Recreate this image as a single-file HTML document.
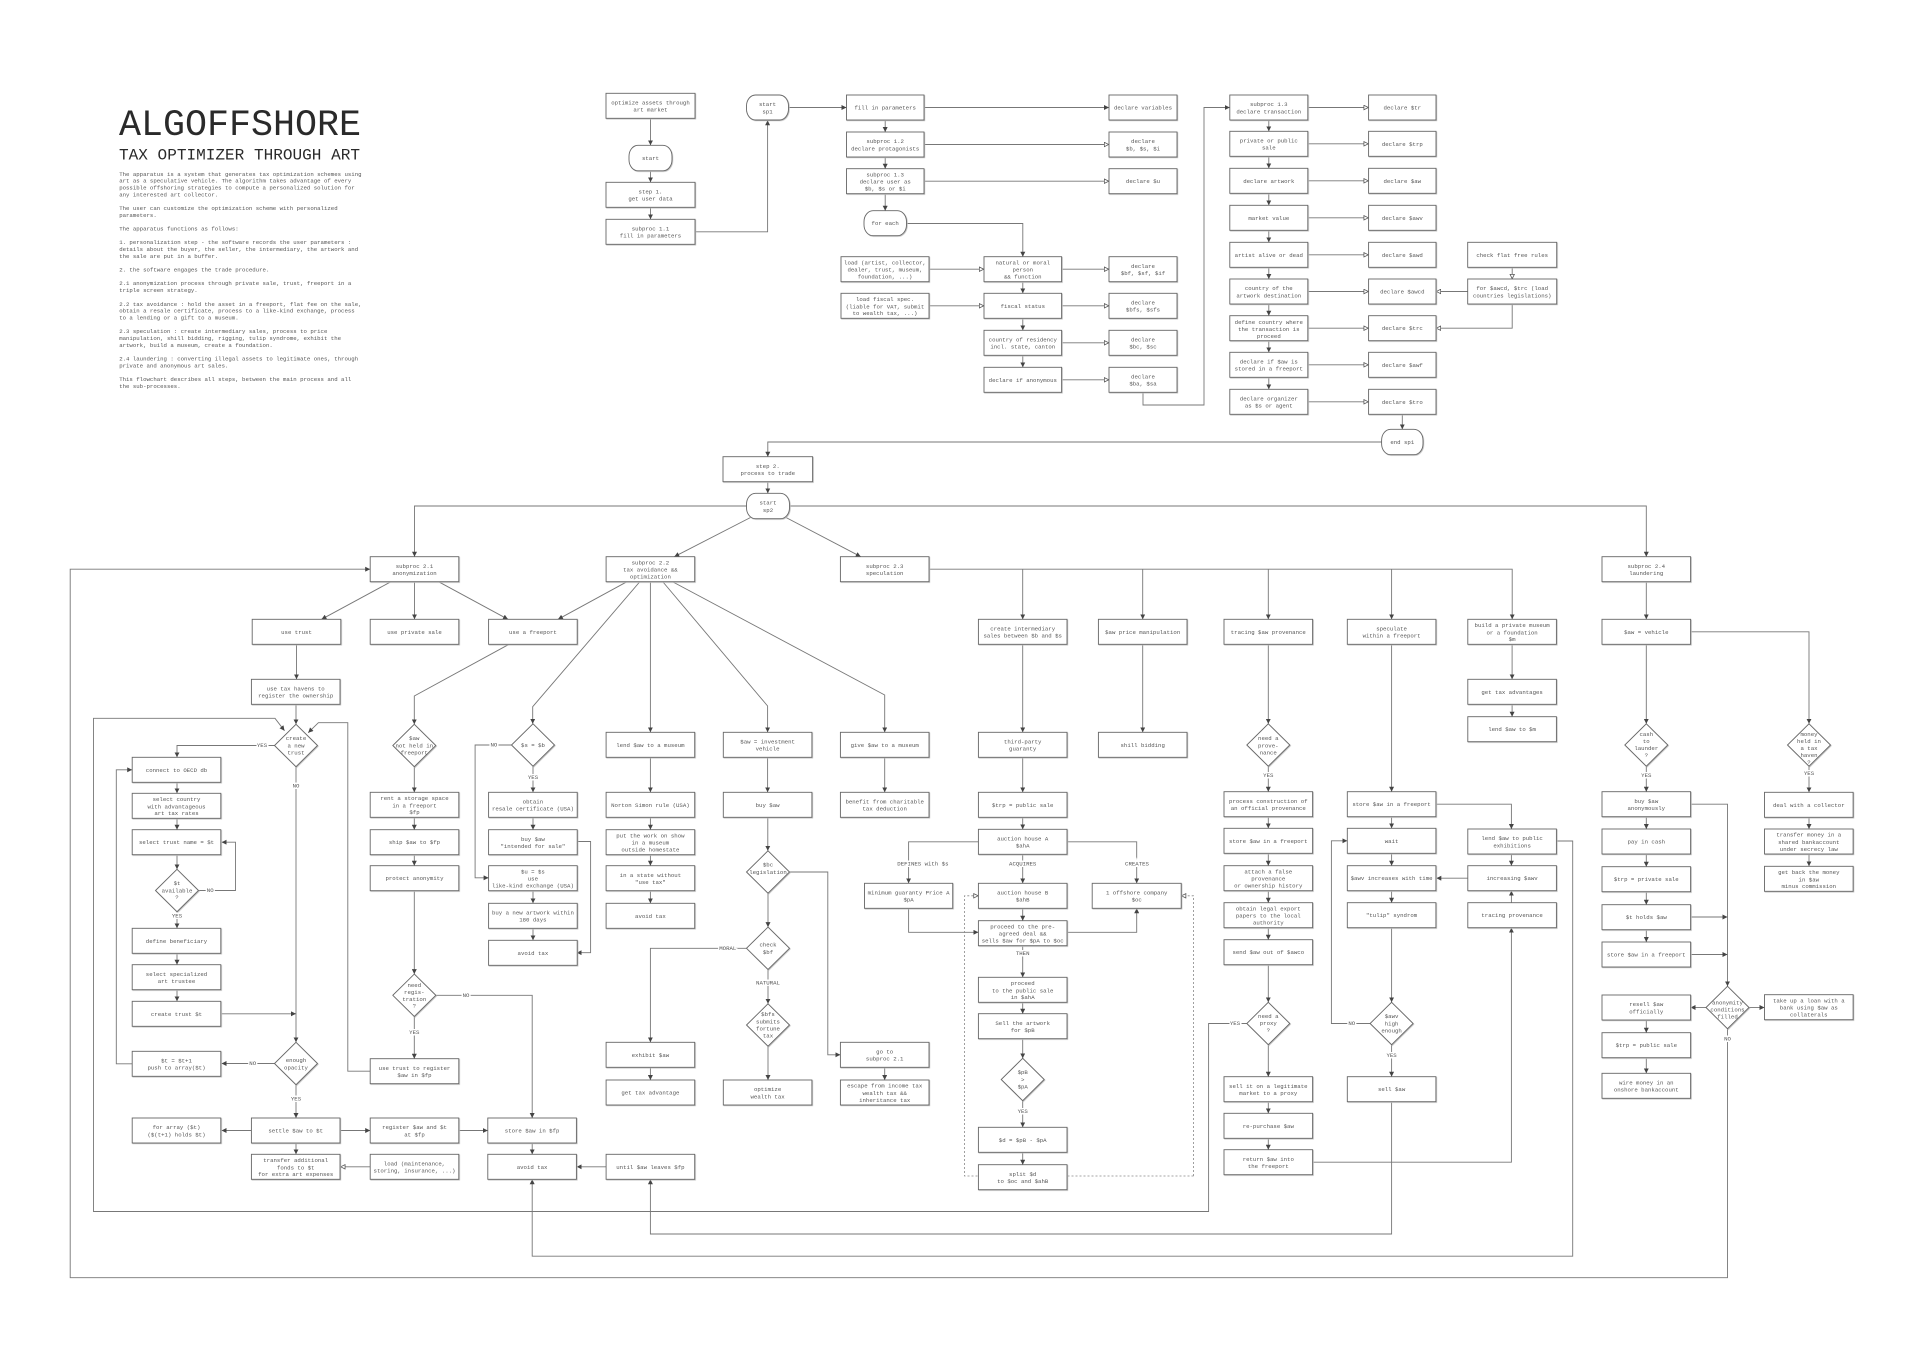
<!DOCTYPE html>
<html><head><meta charset="utf-8"><title>ALGOFFSHORE</title>
<style>
html,body{margin:0;padding:0;background:#fff;overflow:hidden}
svg{display:block}
.l{fill:none;stroke:#777;stroke-width:0.9}
.d{fill:none;stroke:#888;stroke-width:0.8;stroke-dasharray:2,2}
.sh rect,.sh polygon{fill:#fff;stroke:#666;stroke-width:0.9}
.t{font-family:"Liberation Mono",monospace;font-size:5.7px;fill:#555;text-anchor:middle;dominant-baseline:central}
.lb{font-family:"Liberation Mono",monospace;font-size:5.7px;fill:#555;text-anchor:middle;dominant-baseline:central;paint-order:stroke;stroke:#fff;stroke-width:3px}
.bd{font-family:"Liberation Mono",monospace;font-size:5.7px;fill:#555;dominant-baseline:central}
</style></head>
<body>
<svg width="1920" height="1358" viewBox="0 0 1920 1358" xmlns="http://www.w3.org/2000/svg">
<defs>
<marker id="a" viewBox="0 0 10 10" refX="10" refY="5" markerWidth="5" markerHeight="5" markerUnits="userSpaceOnUse" orient="auto"><path d="M0,0 L10,5 L0,10 z" fill="#444"/></marker>
<marker id="h" viewBox="0 0 10 10" refX="9.5" refY="5" markerWidth="5.5" markerHeight="5.5" markerUnits="userSpaceOnUse" orient="auto"><path d="M1,1 L9,5 L1,9 z" fill="#fff" stroke="#555" stroke-width="1.4"/></marker>
<filter id="s" x="-5%" y="-5%" width="110%" height="115%"><feDropShadow dx="0.7" dy="0.7" stdDeviation="0.2" flood-color="#bbb"/></filter>
</defs>
<rect width="1920" height="1358" fill="#fff"/>

<!-- Title block -->
<text x="119" y="135" font-family="Liberation Mono, monospace" font-size="36.7" fill="#2a2a2a" textLength="242" lengthAdjust="spacingAndGlyphs">ALGOFFSHORE</text>
<text x="119" y="159.3" font-family="Liberation Mono, monospace" font-size="16" fill="#2a2a2a" textLength="241" lengthAdjust="spacingAndGlyphs">TAX OPTIMIZER THROUGH ART</text>
<g class="bd">
<text x="119.2" y="174.3">The apparatus is a system that generates tax optimization schemes using</text>
<text x="119.2" y="181.1">art as a speculative vehicle. The algorithm takes advantage of every</text>
<text x="119.2" y="188.0">possible offshoring strategies to compute a personalized solution for</text>
<text x="119.2" y="194.8">any interested art collector.</text>
<text x="119.2" y="208.5">The user can customize the optimization scheme with personalized</text>
<text x="119.2" y="215.3">parameters.</text>
<text x="119.2" y="229.0">The apparatus functions as follows:</text>
<text x="119.2" y="242.7">1. personalization step - the software records the user parameters :</text>
<text x="119.2" y="249.5">details about the buyer, the seller, the intermediary, the artwork and</text>
<text x="119.2" y="256.4">the sale are put in a buffer.</text>
<text x="119.2" y="270.1">2. the software engages the trade procedure.</text>
<text x="119.2" y="283.7">2.1 anonymization process through private sale, trust, freeport in a</text>
<text x="119.2" y="290.6">triple screen strategy.</text>
<text x="119.2" y="304.3">2.2 tax avoidance : hold the asset in a freeport, flat fee on the sale,</text>
<text x="119.2" y="311.1">obtain a resale certificate, process to a like-kind exchange, process</text>
<text x="119.2" y="317.9">to a lending or a gift to a museum.</text>
<text x="119.2" y="331.6">2.3 speculation : create intermediary sales, process to price</text>
<text x="119.2" y="338.5">manipulation, shill bidding, rigging, tulip syndrome, exhibit the</text>
<text x="119.2" y="345.3">artwork, build a museum, create a foundation.</text>
<text x="119.2" y="359.0">2.4 laundering : converting illegal assets to legitimate ones, through</text>
<text x="119.2" y="365.8">private and anonymous art sales.</text>
<text x="119.2" y="379.5">This flowchart describes all steps, between the main process and all</text>
<text x="119.2" y="386.3">the sub-processes.</text>
</g>

<!-- Connectors: filled arrows -->
<g class="l" marker-end="url(#a)">
<path d="M650.5,118.3V145.3"/>
<path d="M650.5,170.8V182.3"/>
<path d="M650.5,207.3V219.3"/>
<path d="M695,231.8H767.6V120.3"/>
<path d="M788.5,107.5H846.5"/>
<path d="M924,107.5H1109"/>
<path d="M885.2,120V132"/>
<path d="M885.2,157V168.7"/>
<path d="M885.2,193.7V210.7"/>
<path d="M906.5,223.5H1022.8V256.7"/>
<path d="M1022.8,281.7V293.3"/>
<path d="M1022.8,318.3V330.3"/>
<path d="M1022.8,355.3V367.3"/>
<path d="M1143,392.3V405H1204V107.5H1229.8"/>
<path d="M1268.8,120V131.3"/>
<path d="M1268.8,156.3V168.3"/>
<path d="M1268.8,193.3V205.3"/>
<path d="M1268.8,230.3V242.3"/>
<path d="M1268.8,267.3V279"/>
<path d="M1268.8,304V315.7"/>
<path d="M1268.8,340.7V352.3"/>
<path d="M1268.8,377.3V389.3"/>
<path d="M1402.3,414.3V429.3"/>
<path d="M1381.6,442H767.8V456.7"/>
<path d="M767.8,481.7V493.3"/>

<path d="M746.5,506H414.5V556.7"/>
<path d="M789.5,506H1646.3V556.7"/>
<path d="M750.5,517.5L674.3,556.7"/>
<path d="M786,517.5L860.8,556.7"/>
<path d="M1727.5,1028.7V1277.7H70.2V569.2H370.2"/>
<path d="M391,581.7L321.5,619.3"/>
<path d="M414.5,581.7V619.3"/>
<path d="M438.5,581.7L508,619.3"/>
<path d="M627,581.7L558,619.3"/>
<path d="M296.5,644.3V679.3"/>
<path d="M296,703.7V724.3"/>
<path d="M1246.8,1023.5H1208.6V1211.5H93.5V718.3H275L284.5,730.7"/>
<path d="M370.2,1071.2H347.8V722.7H318.4L308.2,732.7"/>
<path d="M274.5,745.5H177V757.3"/>
<path d="M296,766.7V1042.3"/>
<path d="M177,782.3V793.3"/>
<path d="M177,818.3V829.7"/>
<path d="M177,854.7V869.3"/>
<path d="M198.5,890.5H235.5V842.2H221.6"/>
<path d="M177,911.7V928.3"/>
<path d="M177,953.3V964.7"/>
<path d="M177,989.7V1001.3"/>
<path d="M221.6,1013.8H296"/>
<path d="M132.2,1063.8H116.3V769.8H132.2"/>
<path d="M274.5,1063.5H221.6"/>
<path d="M296,1084.7V1118"/>
<path d="M251.4,1130.5H221.6"/>
<path d="M340.4,1130.5H370.2"/>
<path d="M458.8,1130.5H487.8"/>
<path d="M296,1143V1154.3"/>
<path d="M532.2,1143V1154.3"/>
<path d="M606.1,1166.8H576.7"/>
<path d="M509,644.3L414.3,696V724.3"/>
<path d="M414.3,766.7V792.3"/>
<path d="M414.3,817.3V829.7"/>
<path d="M414.3,854.7V865.7"/>
<path d="M414.3,890.7V974.1"/>
<path d="M414.3,1016.5V1058.7"/>
<path d="M435.8,995.3H532.2V1118"/>
<path d="M639.6,582L532.7,706.7V723.8"/>
<path d="M511.5,745H475.1V877.8H488.6"/>
<path d="M533,766.2V792.3"/>
<path d="M533,817.3V829.7"/>
<path d="M576.7,841.5H590.6V952.7H576.7"/>
<path d="M533,890.7V903.3"/>
<path d="M533,927.7V940.3"/>
<path d="M650.4,581.7V732.3"/>
<path d="M650.4,757.3V792.3"/>
<path d="M650.4,817.3V829.7"/>
<path d="M650.4,854.7V865.7"/>
<path d="M650.4,890.7V903.3"/>
<path d="M663,582L767.6,706V732.3"/>
<path d="M673,582L884.7,695V732.3"/>
<path d="M767.6,757.3V792.3"/>
<path d="M767.8,817.3V850.8"/>
<path d="M789.5,872H827.8V1054.8H840.4"/>
<path d="M768,893.2V927.1"/>
<path d="M746.5,948.3H650.4V1042.3"/>
<path d="M768,969.5V1003.8"/>
<path d="M768,1046.2V1080"/>
<path d="M884.7,757.3V792.3"/>
<path d="M884.7,1067.3V1080"/>
<path d="M650.4,1067.3V1080"/>

<path d="M929.4,569.2H1512.2V619.3"/>
<path d="M1022.7,569.2V619.3"/>
<path d="M1142.7,569.2V619.3"/>
<path d="M1268.3,569.2V619.3"/>
<path d="M1391.6,569.2V619.3"/>
<path d="M1022.7,644.3V732.3"/>
<path d="M1142.7,644.3V732.3"/>
<path d="M1268.3,644.3V723.8"/>
<path d="M1391.6,644.3V791.7"/>
<path d="M1512.1,644.3V679.3"/>
<path d="M1512.1,704.3V716.7"/>
<path d="M1022.7,757.3V792.3"/>
<path d="M1022.7,817.3V829.3"/>
<path d="M978.4,841.8H908.6V883.3"/>
<path d="M1022.7,854.3V883.3"/>
<path d="M1066.9,841.8H1136.7V883.3"/>
<path d="M908.6,908.3V932.3H978.4"/>
<path d="M1022.7,908.3V920.7"/>
<path d="M1066.9,932.3H1136.7V908.3"/>
<path d="M1022.7,945.7V977.3"/>
<path d="M1022.7,1002.3V1013.7"/>
<path d="M1022.7,1038.7V1058.3"/>
<path d="M1022.7,1100.7V1127.3"/>
<path d="M1022.7,1152.3V1164.7"/>
<path d="M1268.3,766.2V791.7"/>
<path d="M1268.3,816.7V828.3"/>
<path d="M1268.3,853.3V865.7"/>
<path d="M1268.3,890.7V902.7"/>
<path d="M1268.3,927.3V939.7"/>
<path d="M1268.3,964.7V1002.3"/>
<path d="M1268.3,1044.7V1076.7"/>
<path d="M1268.3,1101.7V1113.3"/>
<path d="M1268.3,1138.3V1149.7"/>
<path d="M1313,1162.2H1511.4V927.7"/>
<path d="M1511.4,902.7V890.7"/>
<path d="M1391.6,816.7V828.3"/>
<path d="M1436.3,804.2H1511.4V829"/>
<path d="M1391.6,853.3V865.7"/>
<path d="M1511.4,853.3V865.7"/>
<path d="M1467.8,878.2H1436.3"/>
<path d="M1391.6,890.7V902.7"/>
<path d="M1391.6,927.7V1002.3"/>
<path d="M1370.1,1023.5H1331.4V840.8H1347.3"/>
<path d="M1391.6,1044.7V1076.7"/>
<path d="M1391.6,1101.7V1234H650.4V1179.3"/>
<path d="M1556.3,841H1572.7V1256.2H532.2V1179.3"/>

<path d="M1646.3,581.7V619.3"/>
<path d="M1646.3,644.3V723.8"/>
<path d="M1690.6,631.8H1809V723.8"/>
<path d="M1646.3,766.2V791.7"/>
<path d="M1646.3,816.7V829"/>
<path d="M1646.3,854V866.7"/>
<path d="M1646.3,891.7V904.7"/>
<path d="M1646.3,929.7V942"/>
<path d="M1690.6,804.2H1727.5V986.3"/>
<path d="M1690.6,917H1727.5"/>
<path d="M1690.6,954.5H1727.5"/>
<path d="M1706,1007.5H1690.6"/>
<path d="M1749,1007.5H1764.5"/>
<path d="M1646.3,1020V1032.7"/>
<path d="M1646.3,1057.7V1073.3"/>
<path d="M1809,766.2V792.3"/>
<path d="M1809,817.3V829"/>
<path d="M1809,854.3V866.3"/>
</g>

<!-- Connectors: hollow arrows -->
<g class="l" marker-end="url(#h)">
<path d="M924,144.5H1109"/>
<path d="M924,181.2H1109"/>
<path d="M929,269.2H984"/>
<path d="M1061.6,269.2H1109"/>
<path d="M929,305.8H984"/>
<path d="M1061.6,305.8H1109"/>
<path d="M1061.6,342.8H1109"/>
<path d="M1061.6,379.8H1109"/>
<path d="M1307.8,107.5H1368.6"/>
<path d="M1307.8,143.8H1368.6"/>
<path d="M1307.8,180.8H1368.6"/>
<path d="M1307.8,217.8H1368.6"/>
<path d="M1307.8,254.8H1368.6"/>
<path d="M1307.8,291.5H1368.6"/>
<path d="M1307.8,328.2H1368.6"/>
<path d="M1307.8,364.8H1368.6"/>
<path d="M1307.8,401.8H1368.6"/>
<path d="M1512.2,267.3V279"/>
<path d="M1467.7,291.5H1436"/>
<path d="M1512.2,304V328.2H1436"/>
<path d="M370.2,1166.8H340.4"/>
</g>
<g class="d" marker-end="url(#h)">
<path d="M1193.5,1176H964.5V895.8H978.4"/>
<path d="M1193.5,1176V895.8H1181.2"/>
</g>

<!-- Shapes -->
<g class="sh" filter="url(#s)">
<rect x="606" y="93.3" width="89" height="25"/>
<rect x="629" y="145.3" width="43" height="25.5" rx="9" ry="11"/>
<rect x="606" y="182.3" width="89" height="25"/>
<rect x="606" y="219.3" width="89" height="25"/>
<rect x="746.5" y="95" width="42" height="25" rx="9" ry="11"/>
<rect x="846.5" y="95" width="77.5" height="25"/>
<rect x="846.5" y="132" width="77.5" height="25"/>
<rect x="846.5" y="168.7" width="77.5" height="25"/>
<rect x="864" y="210.7" width="42.5" height="25" rx="9" ry="11"/>
<rect x="841" y="256.7" width="88" height="25"/>
<rect x="841" y="293.3" width="88" height="25"/>
<rect x="984" y="256.7" width="77.6" height="25"/>
<rect x="984" y="293.3" width="77.6" height="25"/>
<rect x="984" y="330.3" width="77.6" height="25"/>
<rect x="984" y="367.3" width="77.6" height="25"/>
<rect x="1109" y="95" width="68" height="25"/>
<rect x="1109" y="132" width="68" height="25"/>
<rect x="1109" y="168.7" width="68" height="25"/>
<rect x="1109" y="256.7" width="68" height="25"/>
<rect x="1109" y="293.3" width="68" height="25"/>
<rect x="1109" y="330.3" width="68" height="25"/>
<rect x="1109" y="367.3" width="68" height="25"/>
<rect x="1229.8" y="95" width="78" height="25"/>
<rect x="1229.8" y="131.3" width="78" height="25"/>
<rect x="1229.8" y="168.3" width="78" height="25"/>
<rect x="1229.8" y="205.3" width="78" height="25"/>
<rect x="1229.8" y="242.3" width="78" height="25"/>
<rect x="1229.8" y="279" width="78" height="25"/>
<rect x="1229.8" y="315.7" width="78" height="25"/>
<rect x="1229.8" y="352.3" width="78" height="25"/>
<rect x="1229.8" y="389.3" width="78" height="25"/>
<rect x="1368.6" y="95" width="67.4" height="25"/>
<rect x="1368.6" y="131.3" width="67.4" height="25"/>
<rect x="1368.6" y="168.3" width="67.4" height="25"/>
<rect x="1368.6" y="205.3" width="67.4" height="25"/>
<rect x="1368.6" y="242.3" width="67.4" height="25"/>
<rect x="1368.6" y="279" width="67.4" height="25"/>
<rect x="1368.6" y="315.7" width="67.4" height="25"/>
<rect x="1368.6" y="352.3" width="67.4" height="25"/>
<rect x="1368.6" y="389.3" width="67.4" height="25"/>
<rect x="1467.7" y="242.3" width="89" height="25"/>
<rect x="1467.7" y="279" width="89" height="25"/>
<rect x="1381.6" y="429.3" width="41.4" height="25.4" rx="9" ry="11"/>
<rect x="723" y="456.7" width="89.6" height="25"/>
<rect x="746.5" y="493.3" width="43" height="25.4" rx="9" ry="11"/>

<rect x="370.2" y="556.7" width="88.6" height="25"/>
<rect x="606.1" y="556.7" width="88.6" height="25"/>
<rect x="840.4" y="556.7" width="88.6" height="25"/>
<rect x="1602" y="556.7" width="88.6" height="25"/>

<rect x="252.2" y="619.3" width="88.6" height="25"/>
<rect x="370.2" y="619.3" width="88.6" height="25"/>
<rect x="488.6" y="619.3" width="88.6" height="25"/>
<rect x="978.4" y="619.3" width="88.6" height="25"/>
<rect x="1098.4" y="619.3" width="88.6" height="25"/>
<rect x="1224" y="619.3" width="88.6" height="25"/>
<rect x="1347.3" y="619.3" width="88.6" height="25"/>
<rect x="1467.8" y="619.3" width="88.6" height="25"/>
<rect x="1602" y="619.3" width="88.6" height="25"/>

<rect x="251.4" y="679.3" width="88.6" height="25"/>
<rect x="1467.8" y="679.3" width="88.6" height="25"/>
<rect x="1467.8" y="716.7" width="88.6" height="25"/>

<rect x="606.1" y="732.3" width="88.6" height="25"/>
<rect x="723.3" y="732.3" width="88.6" height="25"/>
<rect x="840.4" y="732.3" width="88.6" height="25"/>
<rect x="978.4" y="732.3" width="88.6" height="25"/>
<rect x="1098.4" y="732.3" width="88.6" height="25"/>

<rect x="132.2" y="757.3" width="88.6" height="25"/>
<rect x="132.2" y="793.3" width="88.6" height="25"/>
<rect x="132.2" y="829.7" width="88.6" height="25"/>
<rect x="132.2" y="928.3" width="88.6" height="25"/>
<rect x="132.2" y="964.7" width="88.6" height="25"/>
<rect x="132.2" y="1001.3" width="88.6" height="25"/>
<rect x="132.2" y="1051.3" width="88.6" height="25"/>
<rect x="132.2" y="1118" width="88.6" height="25"/>

<rect x="370.2" y="792.3" width="88.6" height="25"/>
<rect x="488.6" y="792.3" width="88.6" height="25"/>
<rect x="606.1" y="792.3" width="88.6" height="25"/>
<rect x="723.3" y="792.3" width="88.6" height="25"/>
<rect x="840.4" y="792.3" width="88.6" height="25"/>
<rect x="978.4" y="792.3" width="88.6" height="25"/>
<rect x="1764.5" y="792.3" width="88.6" height="25"/>
<rect x="1224" y="791.7" width="88.6" height="25"/>
<rect x="1347.3" y="791.7" width="88.6" height="25"/>
<rect x="1602" y="791.7" width="88.6" height="25"/>

<rect x="370.2" y="829.7" width="88.6" height="25"/>
<rect x="488.6" y="829.7" width="88.6" height="25"/>
<rect x="606.1" y="829.7" width="88.6" height="25"/>
<rect x="978.4" y="829.3" width="88.6" height="25"/>
<rect x="1224" y="828.3" width="88.6" height="25"/>
<rect x="1347.3" y="828.3" width="88.6" height="25"/>
<rect x="1467.8" y="829" width="88.6" height="25"/>
<rect x="1602" y="829" width="88.6" height="25"/>
<rect x="1764.5" y="829" width="88.6" height="25"/>

<rect x="370.2" y="865.7" width="88.6" height="25"/>
<rect x="488.6" y="865.7" width="88.6" height="25"/>
<rect x="606.1" y="865.7" width="88.6" height="25"/>
<rect x="1224" y="865.7" width="88.6" height="25"/>
<rect x="1347.3" y="865.7" width="88.6" height="25"/>
<rect x="1467.8" y="865.7" width="88.6" height="25"/>
<rect x="1602" y="866.7" width="88.6" height="25"/>
<rect x="1764.5" y="866.3" width="88.6" height="25"/>

<rect x="864.5" y="883.3" width="88.2" height="25"/>
<rect x="978.4" y="883.3" width="88.6" height="25"/>
<rect x="1092.2" y="883.3" width="89" height="25"/>

<rect x="488.6" y="903.3" width="88.6" height="25"/>
<rect x="606.1" y="903.3" width="88.6" height="25"/>
<rect x="1224" y="902.7" width="88.6" height="25"/>
<rect x="1347.3" y="902.7" width="88.6" height="25"/>
<rect x="1467.8" y="902.7" width="88.6" height="25"/>
<rect x="1602" y="904.7" width="88.6" height="25"/>

<rect x="978.4" y="920.7" width="88.6" height="25"/>
<rect x="488.6" y="940.3" width="88.6" height="25"/>
<rect x="1224" y="939.7" width="88.6" height="25"/>
<rect x="1602" y="942" width="88.6" height="25"/>
<rect x="978.4" y="977.3" width="88.6" height="25"/>
<rect x="1602" y="995" width="88.6" height="25"/>
<rect x="1764.5" y="994.7" width="88.6" height="25"/>
<rect x="978.4" y="1013.7" width="88.6" height="25"/>
<rect x="1602" y="1032.7" width="88.6" height="25"/>
<rect x="840.4" y="1042.3" width="88.6" height="25"/>
<rect x="606.1" y="1042.3" width="88.6" height="25"/>
<rect x="370.2" y="1058.7" width="88.6" height="25"/>
<rect x="1602" y="1073.3" width="88.6" height="25"/>
<rect x="1224" y="1076.7" width="88.6" height="25"/>
<rect x="1347.3" y="1076.7" width="88.6" height="25"/>
<rect x="723.3" y="1080" width="88.6" height="25"/>
<rect x="840.4" y="1080" width="88.6" height="25"/>
<rect x="606.1" y="1080" width="88.6" height="25"/>
<rect x="1224" y="1113.3" width="88.6" height="25"/>
<rect x="251.4" y="1118" width="88.6" height="25"/>
<rect x="370.2" y="1118" width="88.6" height="25"/>
<rect x="487.8" y="1118" width="88.6" height="25"/>
<rect x="978.4" y="1127.3" width="88.6" height="25"/>
<rect x="1224" y="1149.7" width="88.6" height="25"/>
<rect x="251.4" y="1154.3" width="88.6" height="25"/>
<rect x="370.2" y="1154.3" width="88.6" height="25"/>
<rect x="487.8" y="1154.3" width="88.6" height="25"/>
<rect x="606.1" y="1154.3" width="88.6" height="25"/>
<rect x="978.4" y="1164.7" width="88.6" height="25"/>

<polygon points="296,724.3 317.5,745.5 296,766.7 274.5,745.5"/>
<polygon points="414.3,724.3 435.8,745.5 414.3,766.7 392.8,745.5"/>
<polygon points="533,723.8 554.5,745 533,766.2 511.5,745"/>
<polygon points="1268.3,723.8 1289.8,745 1268.3,766.2 1246.8,745"/>
<polygon points="1646.3,723.8 1667.8,745 1646.3,766.2 1624.8,745"/>
<polygon points="1809,723.8 1830.5,745 1809,766.2 1787.5,745"/>
<polygon points="177,869.3 198.5,890.5 177,911.7 155.5,890.5"/>
<polygon points="768,850.8 789.5,872 768,893.2 746.5,872"/>
<polygon points="768,927.1 789.5,948.3 768,969.5 746.5,948.3"/>
<polygon points="768,1003.8 789.5,1025 768,1046.2 746.5,1025"/>
<polygon points="414.3,974.1 435.8,995.3 414.3,1016.5 392.8,995.3"/>
<polygon points="296,1042.3 317.5,1063.5 296,1084.7 274.5,1063.5"/>
<polygon points="1022.7,1058.3 1044.2,1079.5 1022.7,1100.7 1001.2,1079.5"/>
<polygon points="1268.3,1002.3 1289.8,1023.5 1268.3,1044.7 1246.8,1023.5"/>
<polygon points="1391.6,1002.3 1413.1,1023.5 1391.6,1044.7 1370.1,1023.5"/>
<polygon points="1727.5,986.3 1749,1007.5 1727.5,1028.7 1706,1007.5"/>
</g>

<!-- Box texts -->
<g class="t">
<text x="650.5" y="102.9">optimize assets through<tspan x="650.5" dy="6.8">art market</tspan></text>
<text x="650.5" y="158.5">start</text>
<text x="650.5" y="191.9">step 1.<tspan x="650.5" dy="6.8">get user data</tspan></text>
<text x="650.5" y="228.9">subproc 1.1<tspan x="650.5" dy="6.8">fill in parameters</tspan></text>
<text x="767.5" y="104.6">start<tspan x="767.5" dy="6.8">sp1</tspan></text>
<text x="885.2" y="108">fill in parameters</text>
<text x="885.2" y="141.6">subproc 1.2<tspan x="885.2" dy="6.8">declare protagonists</tspan></text>
<text x="885.2" y="174.9">subproc 1.3<tspan x="885.2" dy="6.8">declare user as</tspan><tspan x="885.2" dy="6.8">$b, $s or $i</tspan></text>
<text x="885.2" y="223.7">for each</text>
<text x="885" y="262.9">load (artist, collector,<tspan x="885" dy="6.8">dealer, trust, museum,</tspan><tspan x="885" dy="6.8">foundation, ...)</tspan></text>
<text x="885" y="299.5">load fiscal spec.<tspan x="885" dy="6.8">(liable for VAT, submit</tspan><tspan x="885" dy="6.8">to wealth tax, ...)</tspan></text>
<text x="1022.8" y="262.9">natural or moral<tspan x="1022.8" dy="6.8">person</tspan><tspan x="1022.8" dy="6.8">&amp;&amp; function</tspan></text>
<text x="1022.8" y="306.3">fiscal status</text>
<text x="1022.8" y="339.9">country of residency<tspan x="1022.8" dy="6.8">incl. state, canton</tspan></text>
<text x="1022.8" y="380.3">declare if anonymous</text>
<text x="1143" y="108">declare variables</text>
<text x="1143" y="141.6">declare<tspan x="1143" dy="6.8">$b, $s, $i</tspan></text>
<text x="1143" y="181.7">declare $u</text>
<text x="1143" y="266.3">declare<tspan x="1143" dy="6.8">$bf, $sf, $if</tspan></text>
<text x="1143" y="302.9">declare<tspan x="1143" dy="6.8">$bfs, $sfs</tspan></text>
<text x="1143" y="339.9">declare<tspan x="1143" dy="6.8">$bc, $sc</tspan></text>
<text x="1143" y="376.9">declare<tspan x="1143" dy="6.8">$ba, $sa</tspan></text>
<text x="1268.8" y="104.6">subproc 1.3<tspan x="1268.8" dy="6.8">declare transaction</tspan></text>
<text x="1268.8" y="140.9">private or public<tspan x="1268.8" dy="6.8">sale</tspan></text>
<text x="1268.8" y="181.3">declare artwork</text>
<text x="1268.8" y="218.3">market value</text>
<text x="1268.8" y="255.3">artist alive or dead</text>
<text x="1268.8" y="288.6">country of the<tspan x="1268.8" dy="6.8">artwork destination</tspan></text>
<text x="1268.8" y="322.4">define country where<tspan x="1268.8" dy="6.8">the transaction is</tspan><tspan x="1268.8" dy="6.8">proceed</tspan></text>
<text x="1268.8" y="361.9">declare if $aw is<tspan x="1268.8" dy="6.8">stored in a freeport</tspan></text>
<text x="1268.8" y="398.9">declare organizer<tspan x="1268.8" dy="6.8">as $s or agent</tspan></text>
<text x="1402.3" y="108">declare $tr</text>
<text x="1402.3" y="144.3">declare $trp</text>
<text x="1402.3" y="181.3">declare $aw</text>
<text x="1402.3" y="218.3">declare $awv</text>
<text x="1402.3" y="255.3">declare $awd</text>
<text x="1402.3" y="292">declare $awcd</text>
<text x="1402.3" y="328.7">declare $trc</text>
<text x="1402.3" y="365.3">declare $awf</text>
<text x="1402.3" y="402.3">declare $tro</text>
<text x="1512.2" y="255.3">check flat free rules</text>
<text x="1512.2" y="288.6">for $awcd, $trc (load<tspan x="1512.2" dy="6.8">countries legislations)</tspan></text>
<text x="1402.3" y="442.5">end sp1</text>
<text x="767.8" y="466.3">step 2.<tspan x="767.8" dy="6.8">process to trade</tspan></text>
<text x="768" y="503.1">start<tspan x="768" dy="6.8">sp2</tspan></text>

<text x="414.5" y="566.3">subproc 2.1<tspan x="414.5" dy="6.8">anonymization</tspan></text>
<text x="650.4" y="562.9">subproc 2.2<tspan x="650.4" dy="6.8">tax avoidance &amp;&amp;</tspan><tspan x="650.4" dy="6.8">optimization</tspan></text>
<text x="884.7" y="566.3">subproc 2.3<tspan x="884.7" dy="6.8">speculation</tspan></text>
<text x="1646.3" y="566.3">subproc 2.4<tspan x="1646.3" dy="6.8">laundering</tspan></text>

<text x="296.5" y="632.3">use trust</text>
<text x="414.5" y="632.3">use private sale</text>
<text x="532.9" y="632.3">use a freeport</text>
<text x="1022.7" y="628.9">create intermediary<tspan x="1022.7" dy="6.8">sales between $b and $s</tspan></text>
<text x="1142.7" y="632.3">$aw price manipulation</text>
<text x="1268.3" y="632.3">tracing $aw provenance</text>
<text x="1391.6" y="628.9">speculate<tspan x="1391.6" dy="6.8">within a freeport</tspan></text>
<text x="1512.1" y="625.5">build a private museum<tspan x="1512.1" dy="6.8">or a foundation</tspan><tspan x="1512.1" dy="6.8">$m</tspan></text>
<text x="1646.3" y="632.3">$aw = vehicle</text>

<text x="295.7" y="688.9">use tax havens to<tspan x="295.7" dy="6.8">register the ownership</tspan></text>
<text x="1512.1" y="692.3">get tax advantages</text>
<text x="1512.1" y="729.7">lend $aw to $m</text>

<text x="650.4" y="745.3">lend $aw to a museum</text>
<text x="767.6" y="741.9">$aw = investment<tspan x="767.6" dy="6.8">vehicle</tspan></text>
<text x="884.7" y="745.3">give $aw to a museum</text>
<text x="1022.7" y="741.9">third-party<tspan x="1022.7" dy="6.8">guaranty</tspan></text>
<text x="1142.7" y="745.3">shill bidding</text>

<text x="176.5" y="770.3">connect to OECD db</text>
<text x="176.5" y="799.5">select country<tspan x="176.5" dy="6.8">with advantageous</tspan><tspan x="176.5" dy="6.8">art tax rates</tspan></text>
<text x="176.5" y="842.7">select trust name = $t</text>
<text x="176.5" y="941.3">define beneficiary</text>
<text x="176.5" y="974.3">select specialized<tspan x="176.5" dy="6.8">art trustee</tspan></text>
<text x="176.5" y="1014.3">create trust $t</text>
<text x="176.5" y="1060.9">$t = $t+1<tspan x="176.5" dy="6.8">push to array($t)</tspan></text>
<text x="176.5" y="1127.6">for array ($t)<tspan x="176.5" dy="6.8">($(t+1) holds $t)</tspan></text>

<text x="414.5" y="798.5">rent a storage space<tspan x="414.5" dy="6.8">in a freeport</tspan><tspan x="414.5" dy="6.8">$fp</tspan></text>
<text x="532.9" y="801.9">obtain<tspan x="532.9" dy="6.8">resale certificate (USA)</tspan></text>
<text x="650.4" y="805.3">Norton Simon rule (USA)</text>
<text x="767.6" y="805.3">buy $aw</text>
<text x="884.7" y="801.9">benefit from charitable<tspan x="884.7" dy="6.8">tax deduction</tspan></text>
<text x="1022.7" y="805.3">$trp = public sale</text>
<text x="1808.8" y="805.3">deal with a collector</text>
<text x="1268.3" y="801.3">process construction of<tspan x="1268.3" dy="6.8">an official provenance</tspan></text>
<text x="1391.6" y="804.7">store $aw in a freeport</text>
<text x="1646.3" y="801.3">buy $aw<tspan x="1646.3" dy="6.8">anonymously</tspan></text>

<text x="414.5" y="842.7">ship $aw to $fp</text>
<text x="532.9" y="839.3">buy $aw<tspan x="532.9" dy="6.8">"intended for sale"</tspan></text>
<text x="650.4" y="835.9">put the work on show<tspan x="650.4" dy="6.8">in a museum</tspan><tspan x="650.4" dy="6.8">outside homestate</tspan></text>
<text x="1022.7" y="838.9">auction house A<tspan x="1022.7" dy="6.8">$ahA</tspan></text>
<text x="1268.3" y="841.3">store $aw in a freeport</text>
<text x="1391.6" y="841.3">wait</text>
<text x="1512.1" y="838.6">lend $aw to public<tspan x="1512.1" dy="6.8">exhibitions</tspan></text>
<text x="1646.3" y="842">pay in cash</text>
<text x="1808.8" y="835.2">transfer money in a<tspan x="1808.8" dy="6.8">shared bankaccount</tspan><tspan x="1808.8" dy="6.8">under secrecy law</tspan></text>

<text x="414.5" y="878.7">protect anonymity</text>
<text x="532.9" y="871.9">$u = $s<tspan x="532.9" dy="6.8">use</tspan><tspan x="532.9" dy="6.8">like-kind exchange (USA)</tspan></text>
<text x="650.4" y="875.3">in a state without<tspan x="650.4" dy="6.8">"use tax"</tspan></text>
<text x="1268.3" y="871.9">attach a false<tspan x="1268.3" dy="6.8">provenance</tspan><tspan x="1268.3" dy="6.8">or ownership history</tspan></text>
<text x="1391.6" y="878.7">$awv increases with time</text>
<text x="1512.1" y="878.7">increasing $awv</text>
<text x="1646.3" y="879.7">$trp = private sale</text>
<text x="1808.8" y="872.5">get back the money<tspan x="1808.8" dy="6.8">in $aw</tspan><tspan x="1808.8" dy="6.8">minus commission</tspan></text>

<text x="908.6" y="892.9">minimum guaranty Price A<tspan x="908.6" dy="6.8">$pA</tspan></text>
<text x="1022.7" y="892.9">auction house B<tspan x="1022.7" dy="6.8">$ahB</tspan></text>
<text x="1136.7" y="892.9">1 offshore company<tspan x="1136.7" dy="6.8">$oc</tspan></text>

<text x="532.9" y="912.9">buy a new artwork within<tspan x="532.9" dy="6.8">180 days</tspan></text>
<text x="650.4" y="916.3">avoid tax</text>
<text x="1268.3" y="908.9">obtain legal export<tspan x="1268.3" dy="6.8">papers to the local</tspan><tspan x="1268.3" dy="6.8">authority</tspan></text>
<text x="1391.6" y="915.7">"tulip" syndrom</text>
<text x="1512.1" y="915.7">tracing provenance</text>
<text x="1646.3" y="917.7">$t holds $aw</text>

<text x="1022.7" y="926.9">proceed to the pre-<tspan x="1022.7" dy="6.8">agreed deal &amp;&amp;</tspan><tspan x="1022.7" dy="6.8">sells $aw for $pA to $oc</tspan></text>
<text x="532.9" y="953.3">avoid tax</text>
<text x="1268.3" y="952.7">send $aw out of $awco</text>
<text x="1646.3" y="955">store $aw in a freeport</text>
<text x="1022.7" y="983.5">proceed<tspan x="1022.7" dy="6.8">to the public sale</tspan><tspan x="1022.7" dy="6.8">in $ahA</tspan></text>
<text x="1646.3" y="1004.6">resell $aw<tspan x="1646.3" dy="6.8">officially</tspan></text>
<text x="1808.8" y="1000.9">take up a loan with a<tspan x="1808.8" dy="6.8">bank using $aw as</tspan><tspan x="1808.8" dy="6.8">collaterals</tspan></text>
<text x="1022.7" y="1023.3">Sell the artwork<tspan x="1022.7" dy="6.8">for $pB</tspan></text>
<text x="1646.3" y="1045.7">$trp = public sale</text>
<text x="884.7" y="1051.9">go to<tspan x="884.7" dy="6.8">subproc 2.1</tspan></text>
<text x="650.4" y="1055.3">exhibit $aw</text>
<text x="414.5" y="1068.3">use trust to register<tspan x="414.5" dy="6.8">$aw in $fp</tspan></text>
<text x="1646.3" y="1082.9">wire money in an<tspan x="1646.3" dy="6.8">onshore bankaccount</tspan></text>
<text x="1268.3" y="1086.3">sell it on a legitimate<tspan x="1268.3" dy="6.8">market to a proxy</tspan></text>
<text x="1391.6" y="1089.7">sell $aw</text>
<text x="767.6" y="1089.6">optimize<tspan x="767.6" dy="6.8">wealth tax</tspan></text>
<text x="884.7" y="1086.2">escape from income tax<tspan x="884.7" dy="6.8">wealth tax &amp;&amp;</tspan><tspan x="884.7" dy="6.8">inheritance tax</tspan></text>
<text x="650.4" y="1093">get tax advantage</text>
<text x="1268.3" y="1126.3">re-purchase $aw</text>
<text x="295.7" y="1131">settle $aw to $t</text>
<text x="414.5" y="1127.6">register $aw and $t<tspan x="414.5" dy="6.8">at $fp</tspan></text>
<text x="532.1" y="1131">store $aw in $fp</text>
<text x="1022.7" y="1140.3">$d = $pB - $pA</text>
<text x="1268.3" y="1159.3">return $aw into<tspan x="1268.3" dy="6.8">the freeport</tspan></text>
<text x="295.7" y="1160.5">transfer additional<tspan x="295.7" dy="6.8">fonds to $t</tspan><tspan x="295.7" dy="6.8">for extra art expenses</tspan></text>
<text x="414.5" y="1163.9">load (maintenance,<tspan x="414.5" dy="6.8">storing, insurance, ...)</tspan></text>
<text x="532.1" y="1167.3">avoid tax</text>
<text x="650.4" y="1167.3">until $aw leaves $fp</text>
<text x="1022.7" y="1174.3">split $d<tspan x="1022.7" dy="6.8">to $oc and $ahB</tspan></text>

<!-- Diamond texts -->
<text x="296" y="738.3">create<tspan x="296" dy="7">a new</tspan><tspan x="296" dy="7">trust</tspan></text>
<text x="414.3" y="738.3">$aw<tspan x="414.3" dy="7">not held in</tspan><tspan x="414.3" dy="7">freeport</tspan></text>
<text x="533" y="745.5">$s = $b</text>
<text x="1268.3" y="738.3">need a<tspan x="1268.3" dy="7">prove-</tspan><tspan x="1268.3" dy="7">nance</tspan></text>
<text x="1646.3" y="734.3">cash<tspan x="1646.3" dy="6.9">to</tspan><tspan x="1646.3" dy="6.9">launder</tspan><tspan x="1646.3" dy="6.9">?</tspan></text>
<text x="1809" y="734.3">money<tspan x="1809" dy="6.9">held in</tspan><tspan x="1809" dy="6.9">a tax</tspan><tspan x="1809" dy="6.9">haven</tspan><tspan x="1809" dy="6.9">?</tspan></text>
<text x="177" y="883.7">$t<tspan x="177" dy="6.7">available</tspan><tspan x="177" dy="6.7">?</tspan></text>
<text x="768" y="865">$bc<tspan x="768" dy="7">legislation</tspan></text>
<text x="768" y="945">check<tspan x="768" dy="7">$bf</tspan></text>
<text x="768" y="1014.7">$bfs<tspan x="768" dy="6.9">submits</tspan><tspan x="768" dy="6.9">fortune</tspan><tspan x="768" dy="6.9">tax</tspan></text>
<text x="414.3" y="985.3">need<tspan x="414.3" dy="6.8">regis-</tspan><tspan x="414.3" dy="6.8">tration</tspan><tspan x="414.3" dy="6.8">?</tspan></text>
<text x="296" y="1060.3">enough<tspan x="296" dy="7">opacity</tspan></text>
<text x="1022.7" y="1072.7">$pB<tspan x="1022.7" dy="6.8">&gt;</tspan><tspan x="1022.7" dy="6.8">$pA</tspan></text>
<text x="1268.3" y="1016.3">need a<tspan x="1268.3" dy="6.9">proxy</tspan><tspan x="1268.3" dy="6.9">?</tspan></text>
<text x="1391.6" y="1016.7">$awv<tspan x="1391.6" dy="6.8">high</tspan><tspan x="1391.6" dy="6.8">enough</tspan></text>
<text x="1727.5" y="1003">anonymity<tspan x="1727.5" dy="6.7">conditions</tspan><tspan x="1727.5" dy="6.7">filled</tspan></text>
</g>

<!-- Line labels -->
<g class="lb">
<text x="262" y="745.5">YES</text>
<text x="296" y="786">NO</text>
<text x="210.2" y="890.5">NO</text>
<text x="177" y="916">YES</text>
<text x="252.7" y="1063.5">NO</text>
<text x="296" y="1099">YES</text>
<text x="493.9" y="745">NO</text>
<text x="533" y="777.3">YES</text>
<text x="414.3" y="1032.7">YES</text>
<text x="466" y="995.3">NO</text>
<text x="727.8" y="948.3">MORAL</text>
<text x="768" y="983">NATURAL</text>
<text x="922.9" y="864">DEFINES with $s</text>
<text x="1022.7" y="864">ACQUIRES</text>
<text x="1137" y="864">CREATES</text>
<text x="1022.7" y="953.3">THEN</text>
<text x="1022.7" y="1111.7">YES</text>
<text x="1268.3" y="775.7">YES</text>
<text x="1235" y="1023.5">YES</text>
<text x="1351.8" y="1023.5">NO</text>
<text x="1391.6" y="1055.3">YES</text>
<text x="1646.3" y="775.7">YES</text>
<text x="1809" y="773.7">YES</text>
<text x="1727.5" y="1039">NO</text>
</g>
</svg>
</body></html>
